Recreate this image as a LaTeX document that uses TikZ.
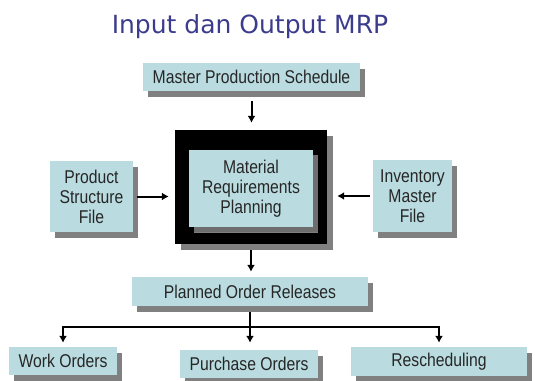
\documentclass[tikz,border=0pt]{standalone}
\usepackage{fontspec}
\newfontfamily\boxfont[FakeStretch=0.85]{Liberation Sans}
\newfontfamily\titlefont{DejaVu Sans}
\usetikzlibrary{shadows,arrows.meta}
\definecolor{boxfill}{HTML}{BADCE0}
\definecolor{shadowgray}{HTML}{808080}
\definecolor{innershadow}{HTML}{6E6E6E}
\definecolor{titleblue}{HTML}{3C3C8E}
\definecolor{boxtext}{HTML}{262626}
\begin{document}
\begin{tikzpicture}[x=1pt,y=-1pt,
  card/.style={fill=boxfill, draw=none, inner sep=0pt, align=center, text=boxtext,
     font=\boxfont\fontsize{18.5}{20}\selectfont,
     general shadow={fill=shadowgray, shadow xshift=5pt, shadow yshift=-6pt}},
  blackframe/.style={fill=black, draw=none, inner sep=0pt,
     general shadow={fill=shadowgray, shadow xshift=6pt, shadow yshift=-6pt}},
  arr/.style={line width=2pt, -{Latex[length=7pt,width=8pt]}},
  plainline/.style={line width=2pt},
]
\fill[white] (0,0) rectangle (535,380);
\useasboundingbox (0,0) rectangle (535,380);

\node[anchor=base, font=\titlefont\fontsize{25}{30}\selectfont, text=titleblue] (title) at (250,33.5) {Input dan Output MRP};

\node[card, minimum width=217pt, minimum height=28pt] (mps) at (251.5,77) {Master Production Schedule};
\node[blackframe, minimum width=152pt, minimum height=114pt] (blk) at (251,187) {};
\node[card, minimum width=124pt, minimum height=77pt,
      general shadow={fill=innershadow, shadow xshift=5pt, shadow yshift=-5pt}] (mrp) at (251,188.5) {Material\\Requirements\\Planning};
\node[card, minimum width=83pt, minimum height=71pt] (psf) at (91.5,196.5) {Product\\Structure\\File};
\node[card, minimum width=79pt, minimum height=72pt] (imf) at (412.5,196) {Inventory\\Master\\File};
\node[card, minimum width=236pt, minimum height=29pt] (por) at (250,291.5) {Planned Order Releases};
\node[card, minimum width=108pt, minimum height=28pt] (wo) at (63,361) {Work Orders};
\node[card, minimum width=138pt, minimum height=28pt] (po) at (249,364) {Purchase Orders};
\node[card, minimum width=176pt, minimum height=29pt] (rs) at (439,361.5) {Rescheduling};

\draw[arr] ([yshift=-10pt]mps.south) -- ([yshift=7pt]mps.south |- blk.north);
\draw[arr] ([xshift=4pt]psf.east) -- ([xshift=-6pt]psf.east -| blk.west);
\draw[arr] ([xshift=-3pt]imf.west) -- ([xshift=10pt]imf.west -| blk.east);
\draw[arr] ([yshift=-6pt]blk.south) -- ([yshift=5pt]blk.south |- por.north);

\coordinate (j) at ([yshift=-21pt]por.south);
\draw[plainline] ([yshift=-6pt]por.south) -- (j);
\draw[arr, shorten >=4pt] (j) -| (wo.north);
\draw[arr, shorten >=7pt] (j) -- (j |- po.north);
\draw[arr, shorten >=4pt] (j) -| (rs.north);
\end{tikzpicture}
\end{document}
